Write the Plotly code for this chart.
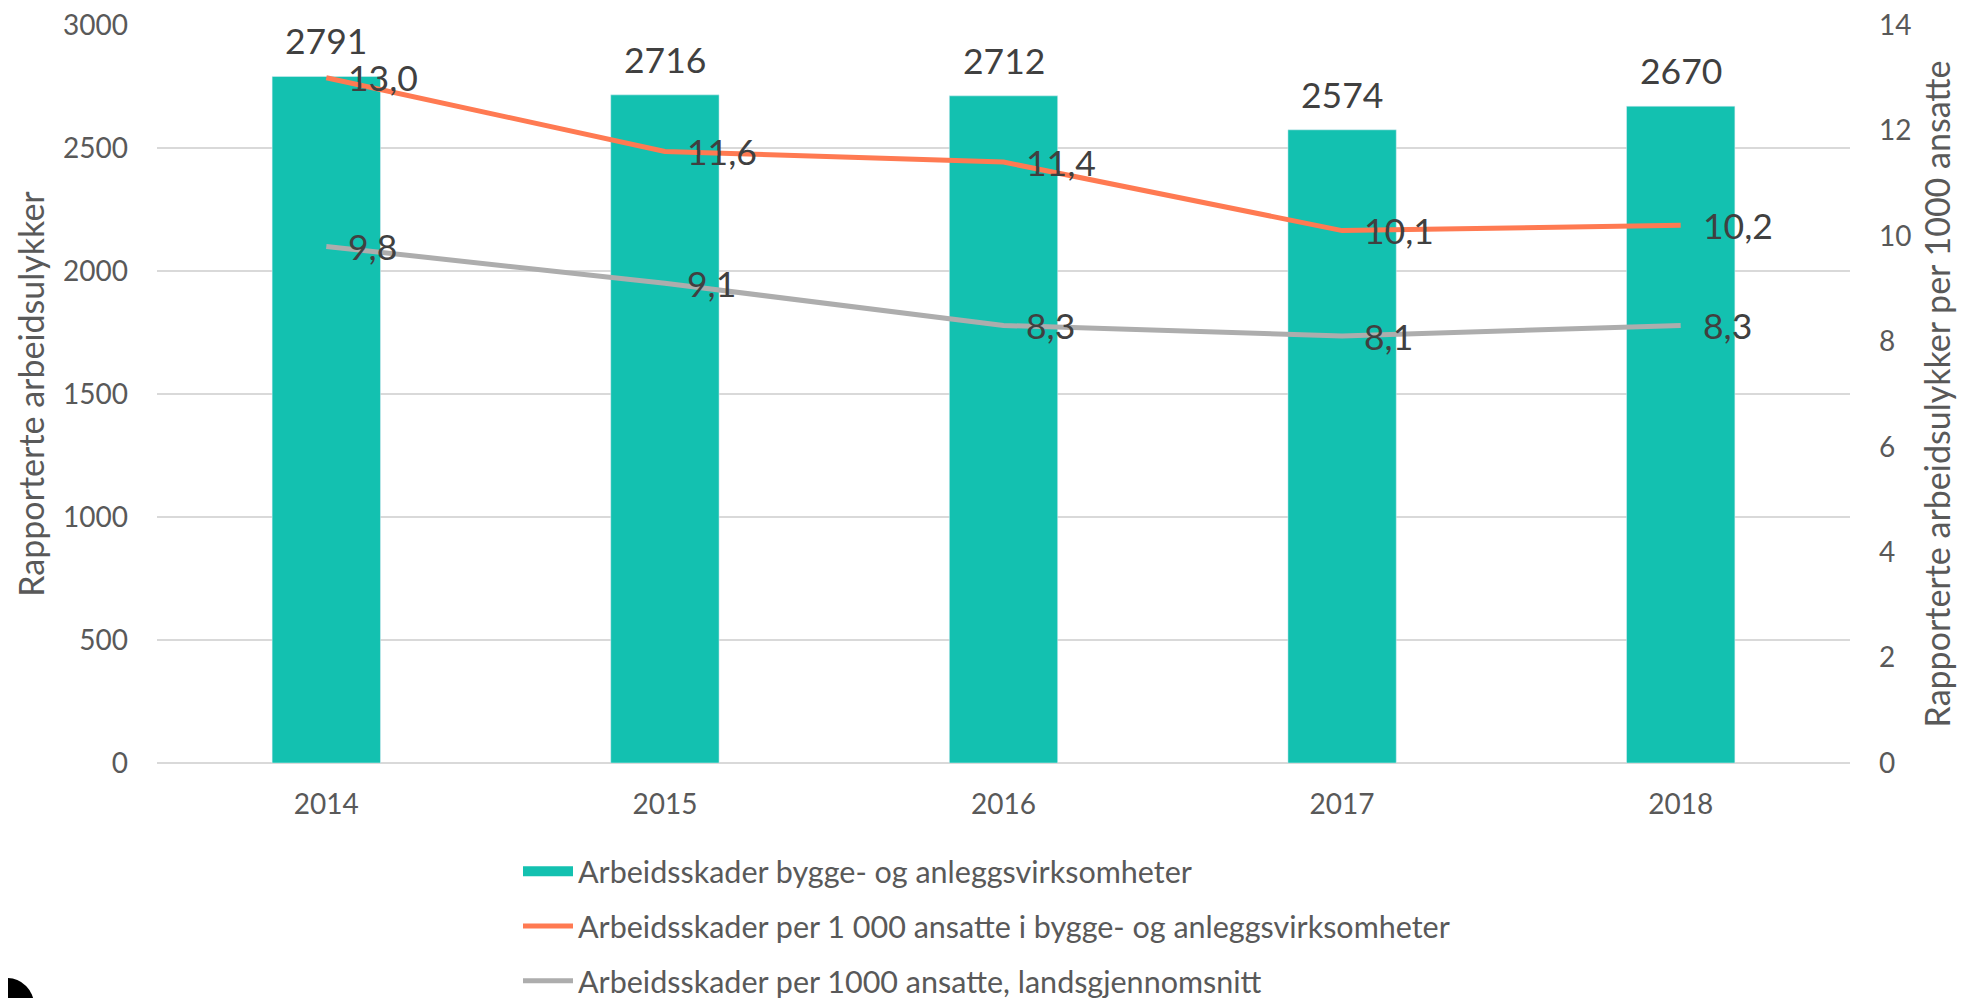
import plotly.graph_objects as go

# data
years = ["2014", "2015", "2016", "2017", "2018"]
skader = [2791, 2716, 2712, 2574, 2670]
per1000_bygg = [13.0, 11.6, 11.4, 10.1, 10.2]
per1000_snitt = [9.8, 9.1, 8.3, 8.1, 8.3]

navn_bar = "Arbeidsskader bygge- og anleggsvirksomheter"
navn_bygg = "Arbeidsskader per 1 000 ansatte i bygge- og anleggsvirksomheter"
navn_snitt = "Arbeidsskader per 1000 ansatte, landsgjennomsnitt"

teal = "rgb(19,193,176)"
oransje = "rgb(255,122,82)"
graa = "rgb(173,173,173)"
font_txt = "Lato, 'Open Sans', sans-serif"

# the html page puts an 8px body margin around the figure
OFF = 8
W, H = 1967 - OFF, 998 - OFF
L, R, T, B = 157 - OFF, 117, 25 - OFF, 235
pw, ph = W - L - R, H - T - B

def komma(v):
    return f"{v:.1f}".replace(".", ",")

# page pixel -> paper coords
def px_x(p):
    return (p - OFF - L) / pw

def px_y(p):
    return -(p - OFF - (H - B)) / ph

fig = go.Figure()
fig.add_trace(go.Bar(x=years, y=skader, name=navn_bar, marker_color=teal,
                     showlegend=False, legendgroup="a", hoverinfo="skip"))
# wider block symbol for the bar series in the legend
fig.add_trace(go.Scatter(x=[None], y=[None], name=navn_bar, mode="lines",
                         line=dict(color=teal, width=10), legendgroup="a"))
fig.add_trace(go.Scatter(x=years, y=per1000_bygg, name=navn_bygg, mode="lines",
                         line=dict(color=oransje, width=5), yaxis="y2",
                         legendgroup="b", hoverinfo="skip"))
fig.add_trace(go.Scatter(x=years, y=per1000_snitt, name=navn_snitt, mode="lines",
                         line=dict(color=graa, width=5), yaxis="y2",
                         legendgroup="c", hoverinfo="skip"))

# data labels (category index as x, the axis is categorical)
for i, v in enumerate(skader):
    fig.add_annotation(x=i, y=v, text=str(v), showarrow=False, yanchor="bottom",
                       yshift=12, font=dict(family=font_txt, size=35.5, color="#404040"))
for serie in (per1000_bygg, per1000_snitt):
    for i, v in enumerate(serie):
        fig.add_annotation(x=i, y=v, yref="y2", text=komma(v), showarrow=False,
                           xanchor="left", xshift=20,
                           font=dict(family=font_txt, size=35.5, color="#404040"))

# bits of the cropped page around the chart
fig.add_annotation(xref="paper", yref="paper", x=px_x(1958), y=px_y(953), text="k",
                   showarrow=False, xanchor="left",
                   font=dict(family=font_txt, size=34, color="black"))
fig.add_shape(type="circle", xref="paper", yref="paper",
              x0=px_x(-20), x1=px_x(34), y0=px_y(1032), y1=px_y(978),
              fillcolor="black", line_width=0, layer="above")

fig.update_layout(
    width=W, height=H,
    margin=dict(l=L, r=R, t=T, b=B, autoexpand=False),
    plot_bgcolor="white", paper_bgcolor="white",
    bargap=0.68,
    showlegend=True,
    legend=dict(x=px_x(518), y=px_y(845),
                xanchor="left", yanchor="top", orientation="v",
                traceorder="grouped", tracegroupgap=12, itemwidth=50,
                font=dict(family=font_txt, size=30.5, color="#595959")),
    xaxis=dict(type="category", range=[-0.5, len(years) - 0.5], showgrid=False,
               showline=False, ticks="", ticklabelstandoff=22,
               tickfont=dict(family=font_txt, size=28, color="#595959")),
    yaxis=dict(range=[0, 3000], dtick=500, showgrid=True, gridcolor="#D9D9D9",
               gridwidth=1.5, zeroline=True, zerolinecolor="#D9D9D9", zerolinewidth=1.5,
               ticks="", ticklabelstandoff=28, ticklabeloverflow="allow",
               tickfont=dict(family=font_txt, size=28, color="#595959"),
               title=dict(text="Rapporterte arbeidsulykker", standoff=8,
                          font=dict(family=font_txt, size=34, color="#595959"))),
    yaxis2=dict(range=[0, 14], dtick=2, overlaying="y", side="right",
                showgrid=False, zeroline=False, ticks="", ticklabelstandoff=28,
                ticklabeloverflow="allow",
                tickfont=dict(family=font_txt, size=28, color="#595959"),
                title=dict(text="Rapporterte arbeidsulykker per 1000 ansatte", standoff=15,
                           font=dict(family=font_txt, size=34, color="#595959"))),
)

fig.write_html("out.html", config={"displayModeBar": False})
